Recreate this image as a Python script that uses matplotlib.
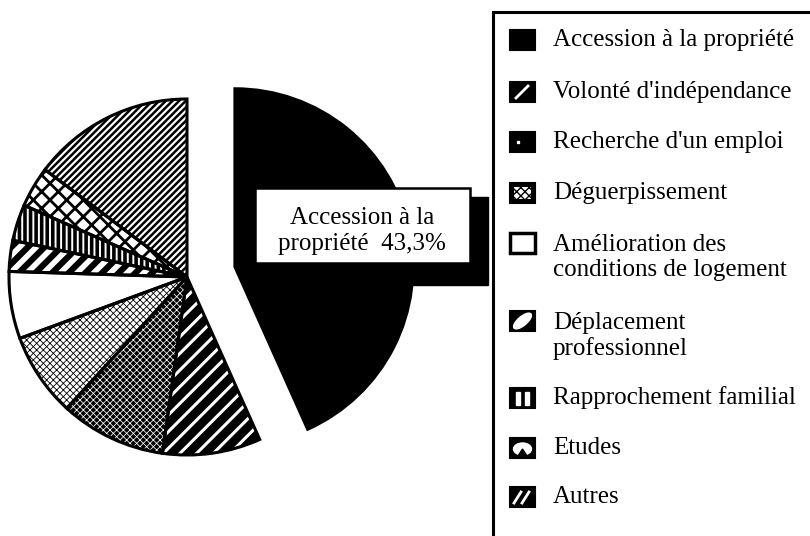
import matplotlib
matplotlib.use('Agg')
import matplotlib.pyplot as plt
from matplotlib.patches import Wedge, Rectangle, Ellipse, Polygon
from matplotlib.lines import Line2D

categories = ["Accession à la propriété", "Volonté d'indépendance", "Recherche d'un emploi",
              "Déguerpissement", "Amélioration des\nconditions de logement",
              "Déplacement\nprofessionnel", "Rapprochement familial", "Etudes", "Autres"]
values = [43.3, 8.9, 9.6, 7.6, 6.1, 2.8, 3.3, 3.7, 14.7]
explode = [49, 0, 0, 0, 0, 0, 0, 0, 0]
label_text = "Accession à la\npropriété  43,3%"

# (facecolor, hatch colour, hatch, hatch linewidth)
styles = [
    ("black", "black", None, 1.0),
    ("black", "white", "//", 2.2),
    ("black", "white", "xxxxx", 0.55),
    ("white", "black", "xxxxx", 0.6),
    ("white", "black", None, 1.0),
    ("black", "white", "//", 4.0),
    ("white", "black", "|||", 2.6),
    ("white", "black", "xx", 2.0),
    ("white", "black", "/////", 1.8),
]

W, H = 810, 536
fig = plt.figure(figsize=(8.1, 5.36), dpi=100)
ax = fig.add_axes([0, 0, 1, 1])
cx, cy, R = 187, H - 277, 178
wedges, _ = ax.pie(values, explode=explode, startangle=90, counterclock=False,
                   radius=R, center=(cx, cy), wedgeprops=dict(linewidth=0))
for w, (fc, hc, hatch, hlw) in zip(wedges, styles):
    w.set_facecolor(fc)
    w.set_edgecolor(hc)
    w.set_linewidth(0)
    if hatch:
        w.set_hatch(hatch)
        try:
            w.set_hatch_linewidth(hlw)
        except AttributeError:
            pass
    ax.add_patch(Wedge(w.center, w.r, w.theta1, w.theta2, fill=False,
                       edgecolor="black", linewidth=2.2, zorder=3))
ax.set_aspect('auto')
ax.set_xlim(0, W)
ax.set_ylim(0, H)
ax.axis('off')

# overlay axes in pixel coordinates (y downwards)
ov = fig.add_axes([0, 0, 1, 1], zorder=5)
ov.set_xlim(0, W)
ov.set_ylim(H, 0)
ov.axis('off')
ov.patch.set_alpha(0)

font = dict(family="Liberation Serif", size=18, color="black")

# label box with shadow
ov.add_patch(Rectangle((265, 197), 223, 88, facecolor="black", edgecolor="black"))
ov.add_patch(Rectangle((255, 188), 215, 75, facecolor="white", edgecolor="black", linewidth=1.8))
ov.text(362, 231, label_text, ha="center", va="center", linespacing=1.2, **font)

# legend frame
ov.add_patch(Rectangle((493, 12), 400, 600, facecolor="white", edgecolor="black", linewidth=2.2))

handle_y = [40, 92, 142, 193, 243, 321, 398, 448, 497]
text_y = [40, 92, 142, 193, 257.5, 336, 398, 448, 497]
hx, hw, hh = 510, 25, 20
for i, (lab, yh, yt) in enumerate(zip(categories, handle_y, text_y)):
    r = Rectangle((hx, yh - hh / 2), hw, hh, facecolor="black", edgecolor="black", linewidth=1.5)
    ov.add_patch(r)
    if i == 1:
        ov.add_line(Line2D([516, 528], [yh + 6, yh - 6], color="white", lw=2))
    elif i == 2:
        ov.add_patch(Rectangle((517, yh - 1), 2, 2, color="white"))
    elif i == 3:
        ov.add_patch(Rectangle((hx + 4, yh - 6), hw - 8, 12, facecolor="white",
                               edgecolor="black", hatch="xxxx", linewidth=0))
    elif i == 4:
        r.set_facecolor("white")
        r.set_linewidth(2.5)
    elif i == 5:
        ov.add_patch(Ellipse((522.5, yh), 22, 9, angle=-40, color="white"))
    elif i == 6:
        ov.add_patch(Rectangle((516, yh - 6), 4, 13, color="white"))
        ov.add_patch(Rectangle((525, yh - 6), 4, 13, color="white"))
    elif i == 7:
        ov.add_patch(Ellipse((522.5, yh + 1), 18, 12, color="white"))
        ov.add_patch(Polygon([[518, yh + 8], [522.5, yh + 1], [527, yh + 8]], color="black"))
    elif i == 8:
        ov.add_line(Line2D([514, 521], [yh + 6, yh - 5], color="white", lw=2))
        ov.add_line(Line2D([522, 529], [yh + 6, yh - 5], color="white", lw=2))
    ov.text(553, yt, lab, ha="left", va="center", linespacing=1.2, **font)

fig.savefig("out.png", dpi=100)
